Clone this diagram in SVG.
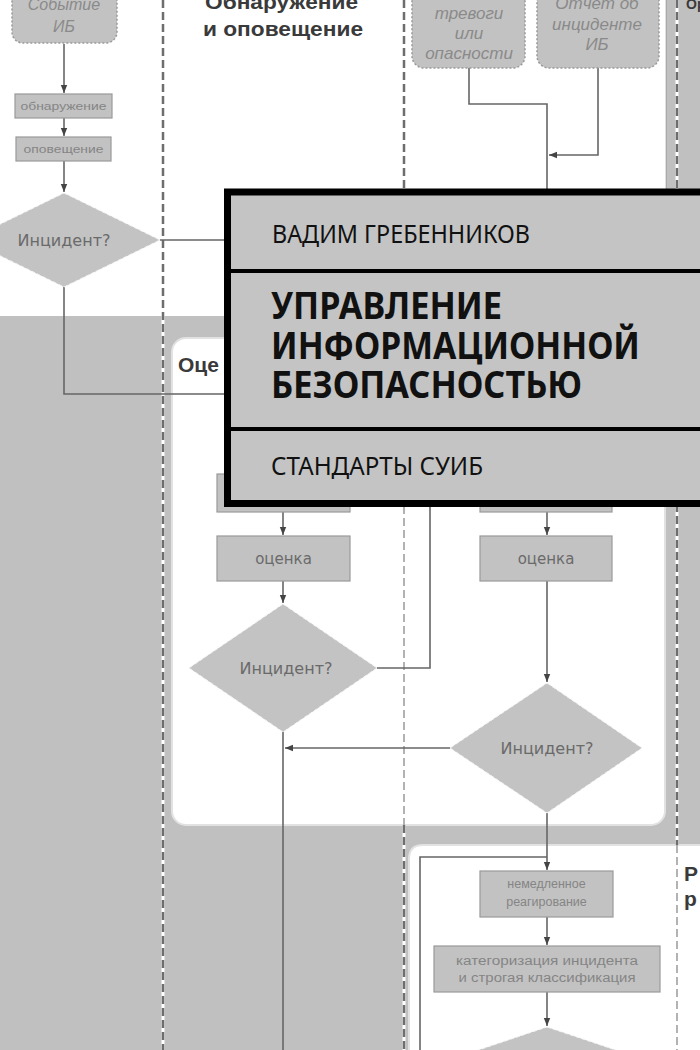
<svg xmlns="http://www.w3.org/2000/svg" width="700" height="1050" viewBox="0 0 700 1050">
<defs>
<marker id="arr" viewBox="0 0 10 10" refX="10" refY="5" markerWidth="8" markerHeight="8" markerUnits="userSpaceOnUse" orient="auto">
<path d="M0,1 L10,5 L0,9 z" fill="#444"/>
</marker>
<style>
.lane-u{stroke:#fff;stroke-width:3;fill:none}
.lane{stroke:#6e6e6e;stroke-width:2.5;stroke-dasharray:8 4;fill:none}
.lane-l{stroke:#a0a0a0;stroke-width:1.6;stroke-dasharray:8 4;fill:none}
.con{stroke:#666;stroke-width:1.6;fill:none}
.box{fill:#c2c2c2;stroke:#999;stroke-width:1.2}
.ev{fill:#c2c2c2;stroke:#999;stroke-width:1.5;stroke-dasharray:2 2}
.dia{fill:#c3c3c3;stroke:#f4f4f4;stroke-width:1;stroke-dasharray:4 2}
.t{font-family:"DejaVu Sans",sans-serif;fill:#6a6a6a;text-anchor:middle}
.ts{font-family:"Liberation Sans",sans-serif;fill:#858585;text-anchor:middle}
.ti{font-family:"Liberation Sans",sans-serif;font-style:italic;fill:#8a8a8a;text-anchor:middle}
.hd{font-family:"Liberation Sans",sans-serif;font-weight:bold;fill:#3a3a3a}
.cv{font-family:"Noto Sans","Open Sans",sans-serif;fill:#111}
</style>
</defs>
<!-- background regions -->
<rect x="0" y="0" width="700" height="1050" fill="#c0c0c0"/>
<rect x="0" y="0" width="665.5" height="316" fill="#fff"/>
<line x1="666.5" y1="0" x2="666.5" y2="316" stroke="#aaa" stroke-width="1"/>
<rect x="172" y="338" width="493" height="487" rx="14" fill="#fff" stroke="#e2e2e2" stroke-width="2"/>
<path d="M409,1060 V859 Q409,845 423,845 H710 V1060 z" fill="#fff" stroke="#e2e2e2" stroke-width="2"/>
<!-- lane headings -->
<text class="hd" x="205" y="9" font-size="20" textLength="153" lengthAdjust="spacingAndGlyphs">Обнаружение</text>
<text class="hd" x="203" y="36" font-size="20" textLength="160" lengthAdjust="spacingAndGlyphs">и оповещение</text>
<text class="hd" x="178" y="372" font-size="21">Оце</text>
<text class="hd" x="684" y="881" font-size="21">Р</text>
<text class="hd" x="684" y="906" font-size="21">р</text>
<text class="hd" x="686" y="9" font-size="14" fill="#777">Ор</text>
<!-- lane separators -->
<g id="lanes">
<path class="lane-u" d="M163,0 V1050 M404,0 V338 M404,825 V1050 M677,0 V845"/>
<path class="lane" d="M163,0 V1050 M404,0 V338 M404,825 V1050 M677,0 V845"/>
<path class="lane-l" d="M404,338 V825 M677,845 V1050"/>
</g>
<!-- connectors -->
<g id="connectors">
<path class="con" d="M64,44 V93" marker-end="url(#arr)"/>
<path class="con" d="M64,118 V136" marker-end="url(#arr)"/>
<path class="con" d="M64,161 V192" marker-end="url(#arr)"/>
<path class="con" d="M160,240 H226"/>
<path class="con" d="M64,287 V394 H226"/>
<path class="con" d="M469,68 V104 H547 V192"/>
<path class="con" d="M598,68 V155 H549" marker-end="url(#arr)"/>
<path class="con" d="M283,512 V535" marker-end="url(#arr)"/>
<path class="con" d="M547,512 V535" marker-end="url(#arr)"/>
<path class="con" d="M283,581 V603" marker-end="url(#arr)"/>
<path class="con" d="M547,581 V682" marker-end="url(#arr)"/>
<path class="con" d="M377,668 H430 V505"/>
<path class="con" d="M450,748 H285" marker-end="url(#arr)"/>
<path class="con" d="M283,732 V1050"/>
<path class="con" d="M547,813 V870" marker-end="url(#arr)"/>
<path class="con" d="M420,1050 V857 H547"/>
<path class="con" d="M547,917 V945" marker-end="url(#arr)"/>
<path class="con" d="M547,992 V1026" marker-end="url(#arr)"/>
</g>
<!-- nodes -->
<g id="n-event">
<rect class="ev" x="12" y="-20" width="105" height="63" rx="11"/>
<text class="ti" x="64" y="10" font-size="16">Событие</text>
<text class="ti" x="64" y="32" font-size="16">ИБ</text>
</g>
<g id="n-detect">
<rect class="box" x="15" y="94" width="97" height="24"/>
<text class="ts" x="63.5" y="110" font-size="11" textLength="86" lengthAdjust="spacingAndGlyphs">обнаружение</text>
</g>
<g id="n-notify">
<rect class="box" x="16" y="137" width="95" height="24"/>
<text class="ts" x="63.5" y="153" font-size="11" textLength="80" lengthAdjust="spacingAndGlyphs">оповещение</text>
</g>
<g id="n-dec1">
<polygon class="dia" points="64,193 160,240 64,287 -32,240"/>
<text class="t" x="64" y="246" font-size="16">Инцидент?</text>
</g>
<g id="n-alarm">
<rect class="ev" x="412" y="-20" width="113" height="88" rx="12"/>
<text class="ti" x="469" y="19" font-size="17">тревоги</text>
<text class="ti" x="469" y="39" font-size="17">или</text>
<text class="ti" x="469" y="59" font-size="17">опасности</text>
</g>
<g id="n-report">
<rect class="ev" x="537" y="-20" width="122" height="88" rx="12"/>
<text class="ti" x="597" y="9" font-size="17">Отчет об</text>
<text class="ti" x="597" y="30" font-size="17">инциденте</text>
<text class="ti" x="597" y="50" font-size="17">ИБ</text>
</g>
<g id="n-hidden-left">
<rect class="box" x="217" y="474" width="133" height="38"/>
</g>
<g id="n-hidden-right">
<rect class="box" x="480" y="474" width="132" height="38"/>
</g>
<g id="n-assess-left">
<rect class="box" x="217" y="536" width="133" height="45"/>
<text class="t" x="283.5" y="564" font-size="15">оценка</text>
</g>
<g id="n-assess-right">
<rect class="box" x="480" y="536" width="132" height="45"/>
<text class="t" x="546" y="564" font-size="15">оценка</text>
</g>
<g id="n-dec2">
<polygon class="dia" points="283,604 377,668 283,732 189,668"/>
<text class="t" x="286" y="674" font-size="16">Инцидент?</text>
</g>
<g id="n-dec3">
<polygon class="dia" points="547,683 642,748 547,813 450,748"/>
<text class="t" x="547" y="754" font-size="16">Инцидент?</text>
</g>
<g id="n-respond">
<rect class="box" x="480" y="871" width="133" height="46"/>
<text class="ts" x="546.5" y="888" font-size="12.5">немедленное</text>
<text class="ts" x="546.5" y="906" font-size="12.5">реагирование</text>
</g>
<g id="n-categorize">
<rect class="box" x="434" y="946" width="226" height="46"/>
<text class="ts" x="547" y="965" font-size="12.5" textLength="182" lengthAdjust="spacingAndGlyphs">категоризация инцидента</text>
<text class="ts" x="547" y="982" font-size="12.5" textLength="177" lengthAdjust="spacingAndGlyphs">и строгая классификация</text>
</g>
<g id="n-dec4">
<polygon class="dia" points="547,1027 687,1074 547,1121 407,1074"/>
</g>
<!-- cover title box -->
<g id="title">
<rect x="227.5" y="192" width="480" height="311.5" fill="#c4c4c4" stroke="#000" stroke-width="7"/>
<rect x="224" y="269" width="480" height="4" fill="#000"/>
<rect x="224" y="427" width="480" height="4" fill="#000"/>
<text class="cv" x="272" y="243" font-size="25" textLength="258" lengthAdjust="spacingAndGlyphs">ВАДИМ ГРЕБЕННИКОВ</text>
<text class="cv" x="271" y="319" font-size="37" font-weight="bold" textLength="231" lengthAdjust="spacingAndGlyphs">УПРАВЛЕНИЕ</text>
<text class="cv" x="271" y="359" font-size="37" font-weight="bold" textLength="369" lengthAdjust="spacingAndGlyphs">ИНФОРМАЦИОННОЙ</text>
<text class="cv" x="271" y="398" font-size="37" font-weight="bold" textLength="311" lengthAdjust="spacingAndGlyphs">БЕЗОПАСНОСТЬЮ</text>
<text class="cv" x="271" y="475" font-size="25" textLength="212" lengthAdjust="spacingAndGlyphs">СТАНДАРТЫ СУИБ</text>
</g>
</svg>
